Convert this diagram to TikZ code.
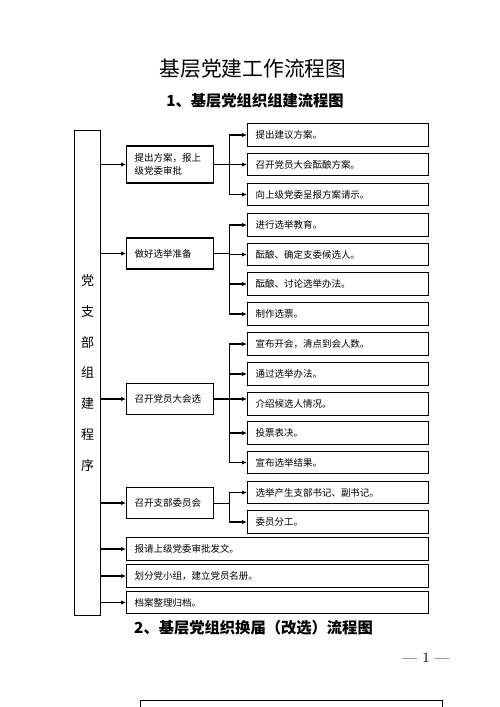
\documentclass[tikz,border=0pt]{standalone}
\usepackage{fontspec}
\newfontfamily\cjk{Noto Sans CJK SC}
\usetikzlibrary{arrows.meta, positioning, calc}

\begin{document}
\begin{tikzpicture}[
    x=0.02cm, y=-0.02cm,
    box/.style={draw, line width=0.7pt, inner xsep=0.16cm, inner ysep=0pt, align=left, font=\cjk\fontsize{5.4}{7.4}\selectfont},
    midbox/.style={box, text width=1.42cm, minimum height=0.62cm, anchor=west},
    subbox/.style={box, text width=3.30cm, minimum height=0.45cm, anchor=west},
    widebox/.style={box, text width=5.72cm, minimum height=0.45cm, anchor=west},
    arrow/.style={-{Latex[length=1mm, width=0.9mm]}, line width=0.6pt},
    heading/.style={font=\cjk\bfseries\fontsize{8.7}{10}\selectfont},
]
\useasboundingbox (0,0) rectangle (500,707);

% Titles
\node[font=\cjk\fontsize{11.8}{13}\selectfont] (title) at (253,69) {基层党建工作流程图};
\node[heading] (sub1) at (255,101) {1、基层党组织组建流程图};

% Layer 1: branch procedure
\node[draw, line width=0.7pt, minimum width=0.52cm, minimum height=9.7cm, inner sep=0pt,
      anchor=north west, align=center, font=\cjk\fontsize{7.4}{17.6}\selectfont]
      (L) at (74,130) {党\\支\\部\\组\\建\\程\\序};

% Layer 2: main steps
\node[midbox, minimum height=0.74cm] (M1) at (126,164.5) {提出方案，报上\\级党委审批};
\node[midbox] (M2) at (126,253.5) {做好选举准备};
\node[midbox] (M3) at (126,399) {召开党员大会选};
\node[midbox] (M4) at (126,503) {召开支部委员会};
\draw[arrow] (M1.west -| L.east) -- (M1.west);
\draw[arrow] (M2.west -| L.east) -- (M2.west);
\draw[arrow] (M3.west -| L.east) -- (M3.west);
\draw[arrow] (M4.west -| L.east) -- (M4.west);

% Layer 3: detailed steps
\coordinate (T) at (229,0);
\node[subbox] (R11) at (247,135) {提出建议方案。};
\node[subbox] (R12) at (247,164.5) {召开党员大会酝酿方案。};
\node[subbox] (R13) at (247,194.5) {向上级党委呈报方案请示。};
\draw (M1.east) -- (M1.east -| T);
\draw (R11.west -| T) -- (R13.west -| T);
\draw[arrow] (R11.west -| T) -- (R11.west);
\draw[arrow] (R12.west -| T) -- (R12.west);
\draw[arrow] (R13.west -| T) -- (R13.west);

\node[subbox] (R21) at (247,225) {进行选举教育。};
\node[subbox] (R22) at (247,254.5) {酝酿、确定支委候选人。};
\node[subbox] (R23) at (247,284) {酝酿、讨论选举办法。};
\node[subbox] (R24) at (247,314) {制作选票。};
\draw (M2.east) -- (M2.east -| T);
\draw (R21.west -| T) -- (R24.west -| T);
\draw[arrow] (R21.west -| T) -- (R21.west);
\draw[arrow] (R22.west -| T) -- (R22.west);
\draw[arrow] (R23.west -| T) -- (R23.west);
\draw[arrow] (R24.west -| T) -- (R24.west);

\node[subbox] (R31) at (247,344) {宣布开会，清点到会人数。};
\node[subbox] (R32) at (247,374) {通过选举办法。};
\node[subbox] (R33) at (247,404) {介绍候选人情况。};
\node[subbox] (R34) at (247,433) {投票表决。};
\node[subbox] (R35) at (247,462.5) {宣布选举结果。};
\draw (R31.west -| T) -- (R35.west -| T);
\draw[arrow] (M3.east) -- (M3.east -| R33.west);
\draw[arrow] (R31.west -| T) -- (R31.west);
\draw[arrow] (R32.west -| T) -- (R32.west);
\draw[arrow] (R34.west -| T) -- (R34.west);
\draw[arrow] (R35.west -| T) -- (R35.west);

\node[subbox] (R41) at (247,492.5) {选举产生支部书记、副书记。};
\node[subbox] (R42) at (247,522) {委员分工。};
\draw (M4.east) -- (M4.east -| T);
\draw (R41.west -| T) -- (R42.west -| T);
\draw[arrow] (R41.west -| T) -- (R41.west);
\draw[arrow] (R42.west -| T) -- (R42.west);

% Final steps
\node[widebox] (B1) at (126,549) {报请上级党委审批发文。};
\node[widebox] (B2) at (126,576) {划分党小组，建立党员名册。};
\node[widebox] (B3) at (126,602.5) {档案整理归档。};
\draw[arrow] (B1.west -| L.east) -- (B1.west);
\draw[arrow] (B2.west -| L.east) -- (B2.west);
\draw[arrow] (B3.west -| L.east) -- (B3.west);

% Next chart, page number
\node[heading] (sub2) at (253.5,628) {2、基层党组织换届（改选）流程图};
\node[font=\fontsize{8}{9}\selectfont] (page) at (426,658) {--- 1 ---};
\node[draw, line width=0.7pt, minimum width=6.04cm, minimum height=0.6cm, anchor=north west] (next) at (140,700) {};

\end{tikzpicture}
\end{document}
